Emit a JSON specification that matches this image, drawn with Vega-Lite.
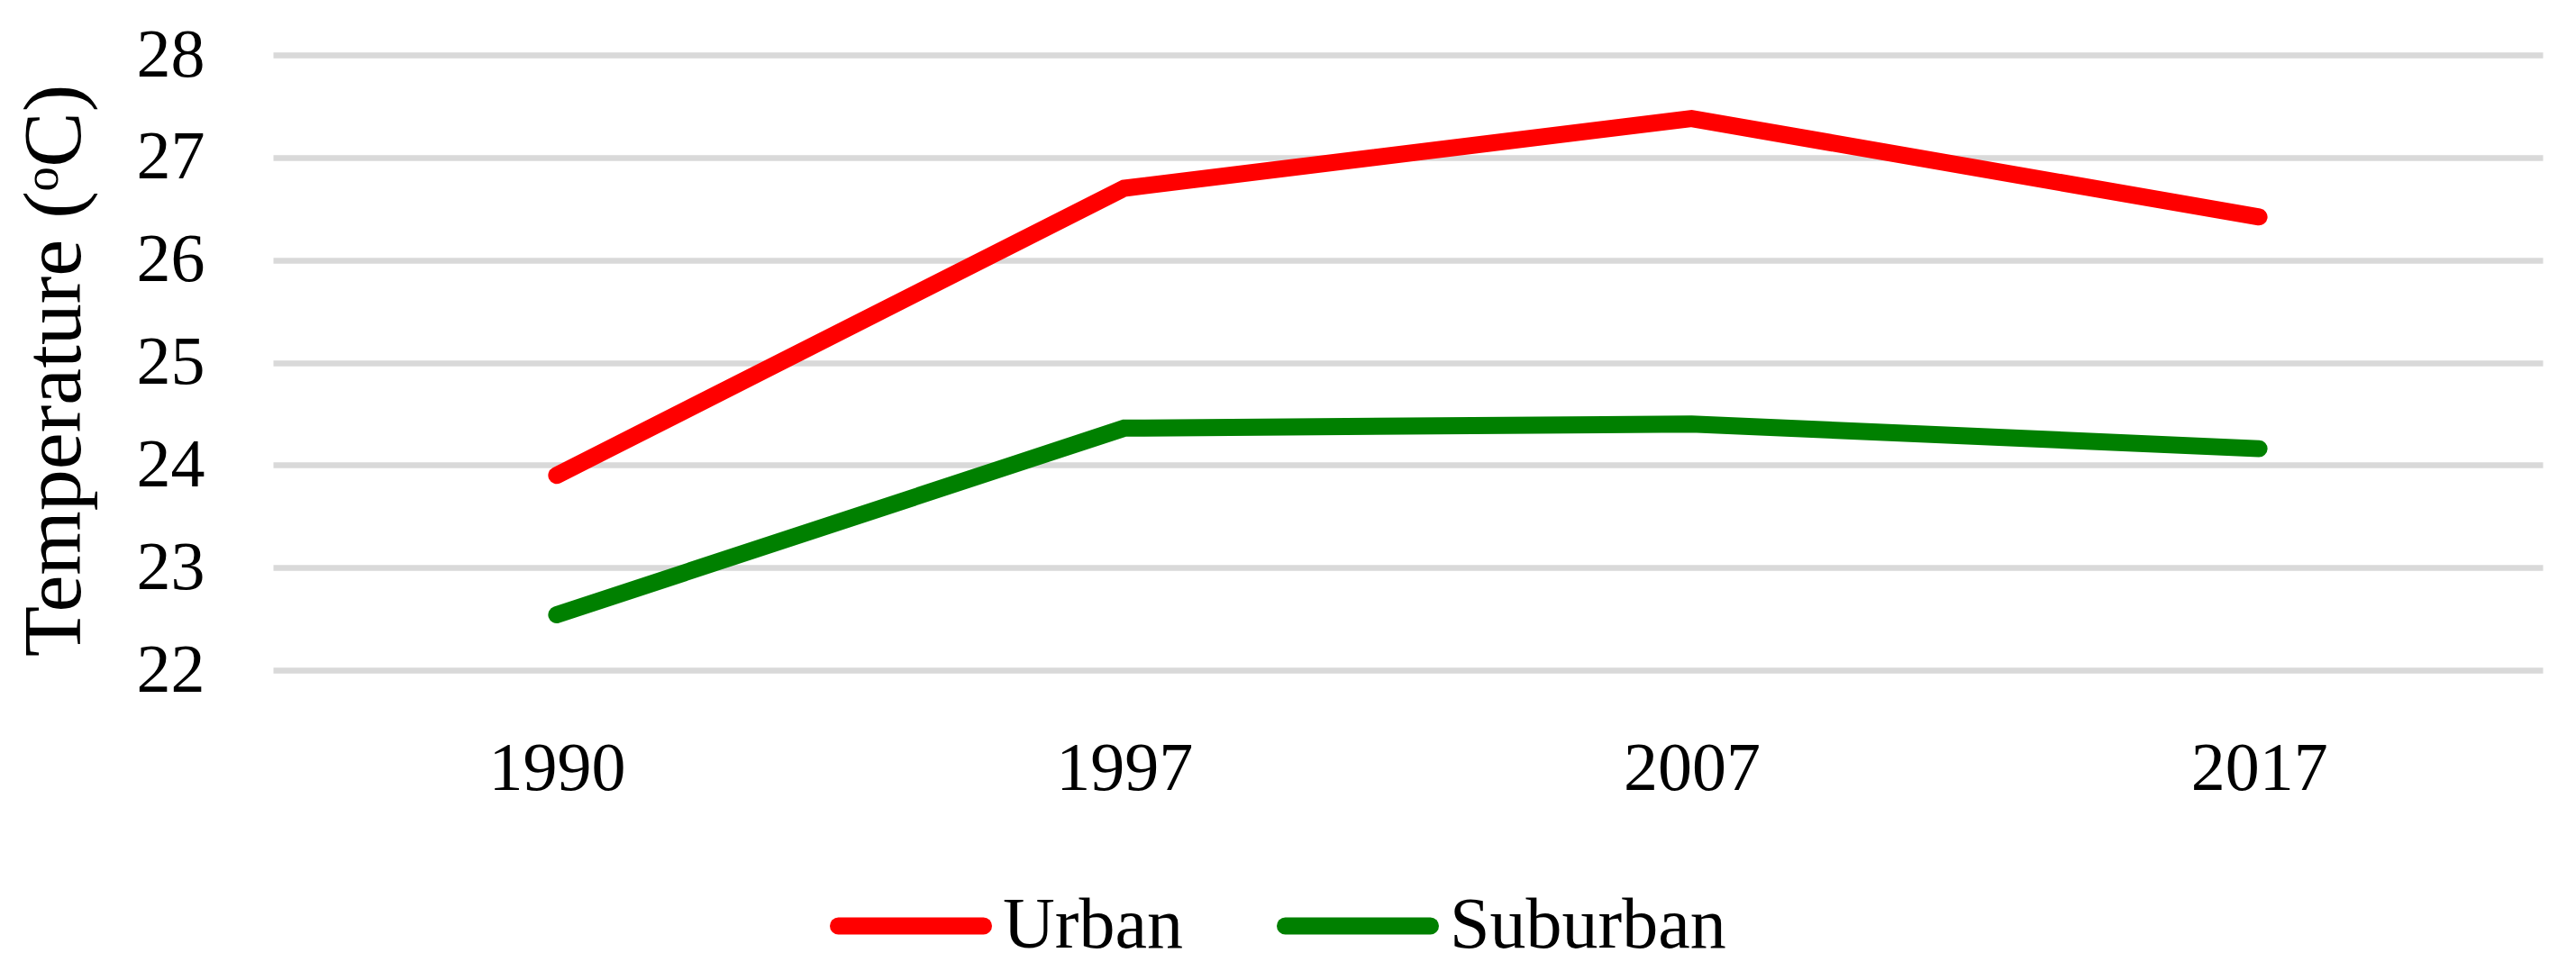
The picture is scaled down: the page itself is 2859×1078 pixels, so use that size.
{
  "$schema": "https://vega.github.io/schema/vega-lite/v6.json",
  "width": 2519,
  "height": 683,
  "autosize": {"type": "none"},
  "padding": {"left": 303, "top": 61, "right": 37, "bottom": 334},
  "background": "white",
  "data": {
    "values": [
      {"year": "1990", "area": "Urban", "temp": 23.90},
      {"year": "1997", "area": "Urban", "temp": 26.70},
      {"year": "2007", "area": "Urban", "temp": 27.38},
      {"year": "2017", "area": "Urban", "temp": 26.42},
      {"year": "1990", "area": "Suburban", "temp": 22.54},
      {"year": "1997", "area": "Suburban", "temp": 24.36},
      {"year": "2007", "area": "Suburban", "temp": 24.40},
      {"year": "2017", "area": "Suburban", "temp": 24.16}
    ]
  },
  "mark": {"type": "line", "strokeWidth": 19, "strokeCap": "round", "strokeJoin": "miter"},
  "encoding": {
    "x": {
      "field": "year", "type": "ordinal", "title": null,
      "axis": {
        "labelAngle": 0, "labelFont": "Liberation Serif", "labelFontSize": 76, "labelColor": "black",
        "ticks": false, "tickSize": 0, "domain": false, "labelPadding": 72, "grid": false
      }
    },
    "y": {
      "field": "temp", "type": "quantitative",
      "scale": {"domain": [22, 28], "nice": false, "zero": false},
      "axis": {
        "values": [22, 23, 24, 25, 26, 27, 28],
        "title": "Temperature (ᵒC)",
        "titleFont": "Liberation Serif", "titleFontSize": 92, "titleFontWeight": "normal", "titleColor": "black",
        "titlePadding": 44, "titleY": 350,
        "labelFont": "Liberation Serif", "labelFontSize": 76, "labelColor": "black",
        "ticks": false, "tickSize": 0, "domain": false, "labelPadding": 76,
        "grid": true, "gridColor": "#d9d9d9", "gridWidth": 6.7
      }
    },
    "color": {
      "field": "area", "type": "nominal",
      "scale": {"domain": ["Urban", "Suburban"], "range": ["#ff0000", "#008000"]},
      "legend": {
        "title": null, "orient": "none", "direction": "horizontal",
        "legendX": 618, "legendY": 877,
        "symbolType": "stroke", "symbolSize": 25921, "symbolStrokeWidth": 19,
        "labelFont": "Liberation Serif", "labelFontSize": 80, "labelColor": "black", "labelLimit": 0,
        "labelOffset": 12, "columnPadding": 75, "padding": 0,
        "encode": {"symbols": {"update": {"strokeCap": {"value": "round"}}}}
      }
    }
  },
  "config": {"view": {"stroke": null}}
}
